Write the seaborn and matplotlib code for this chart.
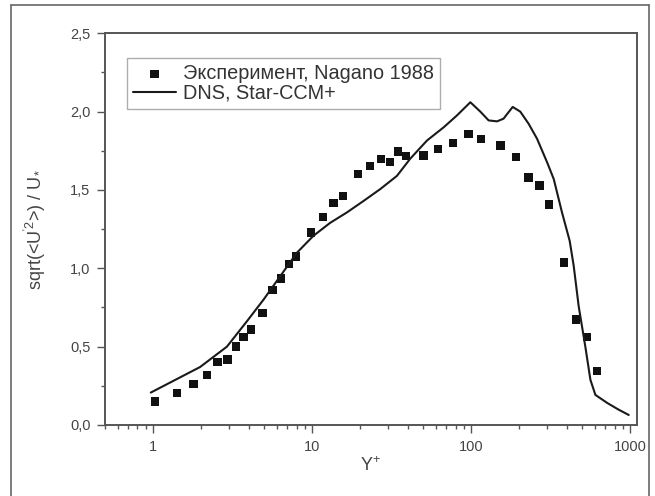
import matplotlib
matplotlib.use("Agg")
import matplotlib.pyplot as plt
import matplotlib.ticker as mticker
from matplotlib.lines import Line2D
import seaborn as sns
import pandas as pd

# ---- data ----
exp_x = [1.03, 1.42, 1.80, 2.18, 2.55, 2.94, 3.32, 3.71, 4.13, 4.89, 5.65, 6.38,
         7.16, 7.96, 9.84, 11.7, 13.65, 15.6, 19.4, 23.2, 27.1, 31.0, 34.7, 38.9,
         50.2, 61.8, 76.9, 96.3, 115.3, 153, 192, 229.6, 269, 308, 385, 458, 534, 618]
exp_y = [0.149, 0.203, 0.26, 0.318, 0.40, 0.417, 0.50, 0.562, 0.609, 0.716, 0.861, 0.934,
         1.028, 1.075, 1.229, 1.329, 1.415, 1.46, 1.603, 1.651, 1.696, 1.677, 1.746, 1.716,
         1.72, 1.763, 1.80, 1.859, 1.825, 1.784, 1.71, 1.579, 1.528, 1.408, 1.038, 0.673, 0.56, 0.346]

dns_x = [0.97, 1.98, 2.92, 3.90, 4.96, 6.32, 8.05, 10.2, 13.0, 16.6, 21.1, 26.9, 34.2,
         41.5, 52.9, 67.3, 81.6, 99, 114.4, 129, 145.7, 160, 182.7, 204, 230, 260,
         300.6, 331, 373, 417, 442, 475, 523, 563, 605, 720, 840, 980]
dns_y = [0.207, 0.37, 0.50, 0.662, 0.80, 0.95, 1.10, 1.207, 1.29, 1.357, 1.43, 1.506, 1.59,
         1.70, 1.816, 1.90, 1.976, 2.06, 2.00, 1.944, 1.938, 1.955, 2.03, 2.00, 1.923, 1.827,
         1.677, 1.57, 1.357, 1.175, 1.015, 0.758, 0.50, 0.288, 0.192, 0.14, 0.10, 0.064]

exp_label = "Эксперимент, Nagano 1988"
dns_label = "DNS, Star-CCM+"
y_ticks = [0.0, 0.5, 1.0, 1.5, 2.0, 2.5]
y_tick_labels = ["0,0", "0,5", "1,0", "1,5", "2,0", "2,5"]
x_ticks = [1, 10, 100, 1000]
x_tick_labels = ["1", "10", "100", "1000"]

# ---- style ----
sns.set_style("white")
plt.rcParams["font.family"] = ["Liberation Sans", "DejaVu Sans"]
plt.rcParams["mathtext.fontset"] = "custom"
plt.rcParams["mathtext.rm"] = "Liberation Sans"
plt.rcParams["mathtext.it"] = "Liberation Sans"
plt.rcParams["mathtext.bf"] = "Liberation Sans"

grey = "#555555"
fig = plt.figure(figsize=(6.55, 4.96), dpi=100)
ax = fig.add_axes([105 / 655, 71 / 496, (636.7 - 105) / 655, (425 - 33.3) / 496])

df_exp = pd.DataFrame({"x": exp_x, "y": exp_y})
df_dns = pd.DataFrame({"x": dns_x, "y": dns_y})

sns.lineplot(data=df_dns, x="x", y="y", ax=ax, sort=False, estimator=None,
             color="#1a1a1a", linewidth=1.5, label=dns_label)
sns.scatterplot(data=df_exp, x="x", y="y", ax=ax, marker="s", s=36,
                color="#111111", edgecolor="none", linewidth=0, label=exp_label)

ax.set_xscale("log")
ax.set_xlim(0.5, 1100)
ax.set_ylim(0, 2.5)

ax.set_xticks(x_ticks)
ax.set_xticklabels(x_tick_labels)
ax.xaxis.set_minor_locator(mticker.LogLocator(base=10, subs=[2, 3, 4, 5, 6, 7, 8, 9], numticks=20))
ax.xaxis.set_minor_formatter(mticker.NullFormatter())
ax.set_yticks(y_ticks)
ax.set_yticklabels(y_tick_labels)
ax.yaxis.set_minor_locator(mticker.MultipleLocator(0.25))

ax.tick_params(axis="both", which="major", direction="out", length=5.5, width=1,
               color=grey, labelcolor="#444444", labelsize=10.5, pad=5,
               bottom=True, left=True, top=False, right=False)
ax.tick_params(axis="both", which="minor", direction="out", length=3, width=1,
               color=grey, bottom=True, left=True, top=False, right=False)

for s in ax.spines.values():
    s.set_visible(True)
    s.set_color(grey)
    s.set_linewidth(1.4)

ax.set_xlabel("Y$^{+}$", fontsize=13, color="#444444", labelpad=2)
ax.set_ylabel("sqrt(<U$^{'2}$>) / U$_{*}$", fontsize=13, color="#444444", labelpad=16)

handles, labels = ax.get_legend_handles_labels()
order = [labels.index(exp_label), labels.index(dns_label)]
leg = ax.legend([handles[i] for i in order], [labels[i] for i in order],
                loc="upper left", bbox_to_anchor=(0.041, 0.937), borderaxespad=0,
                fontsize=14.3, frameon=True, fancybox=False, edgecolor="#999999",
                handlelength=2.2, handletextpad=0.35, labelspacing=0.05,
                borderpad=0.3, markerscale=1.0)
leg.get_frame().set_linewidth(1.0)
for t in leg.get_texts():
    t.set_color("#333333")

# outer frame around figure
for (xs, ys) in [([11 / 655, 11 / 655], [0, 1 - 5 / 496]),
                 ([11 / 655, 649 / 655], [1 - 5 / 496, 1 - 5 / 496]),
                 ([649 / 655, 649 / 655], [1 - 5 / 496, 0])]:
    fig.add_artist(Line2D(xs, ys, transform=fig.transFigure, color="#666666", linewidth=1.2))

fig.savefig("out.png", dpi=100)
